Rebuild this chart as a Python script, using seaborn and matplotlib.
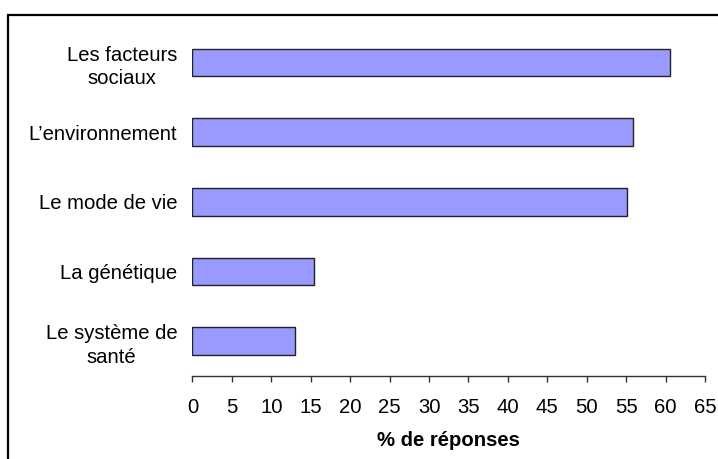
import matplotlib
matplotlib.use("Agg")
import matplotlib.pyplot as plt
from matplotlib.patches import Rectangle
import seaborn as sns

# data
categories = ["Les facteurs\nsociaux", "L\u2019environnement", "Le mode de vie",
              "La génétique", "Le système de\nsanté"]
values = [60.5, 55.9, 55.1, 15.4, 13.0]
x_ticks = list(range(0, 70, 5))

sns.set_style("white")
plt.rcParams["font.family"] = ["Liberation Sans", "DejaVu Sans"]
plt.rcParams["font.size"] = 14.6
plt.rcParams["text.color"] = "black"
plt.rcParams["axes.labelcolor"] = "black"
plt.rcParams["xtick.labelcolor"] = "black"
plt.rcParams["ytick.labelcolor"] = "black"

fig = plt.figure(figsize=(7.18, 4.59), dpi=100)
ax = fig.add_axes([0.2681, 0.1808, 0.7138, 0.7589])

sns.barplot(x=values, y=categories, orient="h", color="#9999ff", saturation=1,
            width=0.4, edgecolor="#222222", linewidth=1, ax=ax)

ax.set_xlim(0, 65)
ax.set_ylim(4.5, -0.5)
ax.set_xticks(x_ticks)
ax.set_xticklabels([str(t) for t in x_ticks], fontsize=14.6)
ax.set_yticks(range(len(categories)))
ax.set_yticklabels(categories, fontsize=14.6, multialignment="center",
                   linespacing=1.3)
ax.tick_params(axis="y", length=0, pad=11)
ax.tick_params(axis="x", direction="out", length=4.3, width=1, color="#333333",
               pad=11.5, bottom=True)
ax.set_xlabel("% de réponses", fontsize=14.6, fontweight="bold", labelpad=10)
ax.set_ylabel("")

for side in ["top", "right", "left"]:
    ax.spines[side].set_visible(False)
ax.spines["bottom"].set_color("#333333")
ax.spines["bottom"].set_linewidth(1)

# outer frame running off the right and bottom edges
fig.add_artist(Rectangle((8 / 718, -0.1), 2, (1 - 14.7 / 459) + 0.1,
                         transform=fig.transFigure, fill=False,
                         edgecolor="black", linewidth=1.6))

fig.savefig("out.png", dpi=100)
